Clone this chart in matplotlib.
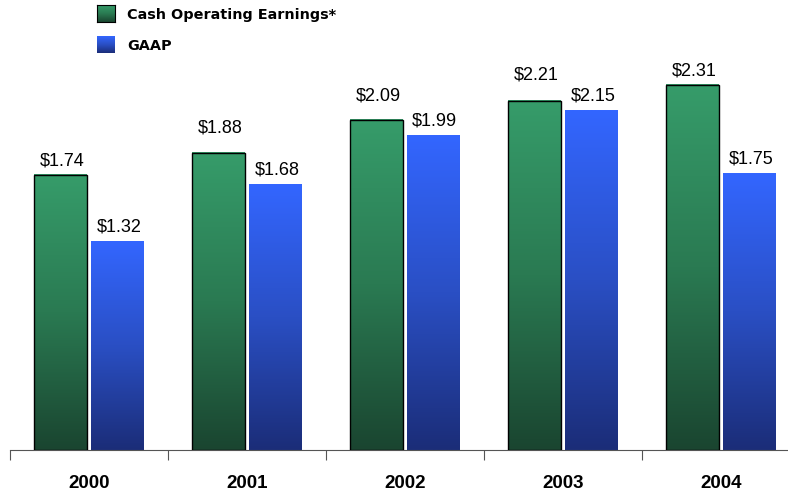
import numpy as np
import matplotlib
matplotlib.use("Agg")
import matplotlib.pyplot as plt
from matplotlib.colors import LinearSegmentedColormap

years = ["2000", "2001", "2002", "2003", "2004"]
cash_eps = [1.74, 1.88, 2.09, 2.21, 2.31]
gaap_eps = [1.32, 1.68, 1.99, 2.15, 1.75]
series_names = ["Cash Operating Earnings*", "GAAP"]

plt.rcParams['font.family'] = ['Liberation Sans', 'DejaVu Sans']

green_cmap = LinearSegmentedColormap.from_list("g", ["#1a4530", "#2a7a52", "#369c6a"])
blue_cmap = LinearSegmentedColormap.from_list("b", ["#1b2d78", "#2a4fc4", "#3366ff"])
grad = np.linspace(0, 1, 256).reshape(-1, 1)

fig = plt.figure(figsize=(7.88, 4.95), dpi=100)
ax = fig.add_axes([10 / 788, 45 / 495, 777 / 788, 411 / 495])

x = np.arange(len(years))
width = 0.33
offset = 0.18

def gradient_bars(xs, vals, cmap, edge):
    bars = ax.bar(xs, vals, width, color="none", edgecolor=edge,
                  linewidth=1.0 if edge != "none" else 0, zorder=3)
    for b in bars:
        x0, w, h = b.get_x(), b.get_width(), b.get_height()
        ax.imshow(grad, cmap=cmap, origin="lower", aspect="auto",
                  extent=[x0, x0 + w, 0, h], zorder=2)
    return bars

gradient_bars(x - offset, cash_eps, green_cmap, "black")
gradient_bars(x + offset, gaap_eps, blue_cmap, "none")

# the middle green labels sit higher in the original
green_lift = [4, 12, 11, 12, 4]
for xi, v, d in zip(x - offset, cash_eps, green_lift):
    ax.annotate(f"${v:.2f}", (xi, v), xytext=(1, d), textcoords="offset points",
                ha="center", va="bottom", fontsize=13)
for xi, v in zip(x + offset, gaap_eps):
    ax.annotate(f"${v:.2f}", (xi, v), xytext=(1, 4), textcoords="offset points",
                ha="center", va="bottom", fontsize=13)

ax.set_xlim(-0.5, -0.5 + 777 / 158)
ax.set_ylim(0, 2.6)
for s in ["top", "right", "left"]:
    ax.spines[s].set_visible(False)
ax.spines["bottom"].set_color("#555555")
ax.set_yticks([])
ax.set_xticks(np.arange(-0.5, 4.5, 1.0))
ax.set_xticklabels([])
ax.tick_params(axis="x", direction="out", length=7, color="#555555")
ax.set_xticks(x, minor=True)
ax.set_xticklabels(years, minor=True, fontsize=13.5, fontweight="bold")
ax.tick_params(axis="x", which="minor", length=0, pad=18)

# legend swatches
for i, (name, cmap) in enumerate(zip(series_names, [green_cmap, blue_cmap])):
    top = 5 + i * 31
    sw = fig.add_axes([97 / 788, 1 - (top + 17) / 495, 18 / 788, 17 / 495])
    sw.imshow(grad, cmap=cmap, origin="lower", aspect="auto")
    sw.set_xticks([])
    sw.set_yticks([])
    for sp in sw.spines.values():
        sp.set_visible(i == 0)
        sp.set_linewidth(0.8)
    fig.text(127 / 788, 1 - (top + 10) / 495, name, fontsize=10.4,
             fontweight="bold", va="center", ha="left", family="DejaVu Sans")

fig.savefig("out.png", dpi=100)
